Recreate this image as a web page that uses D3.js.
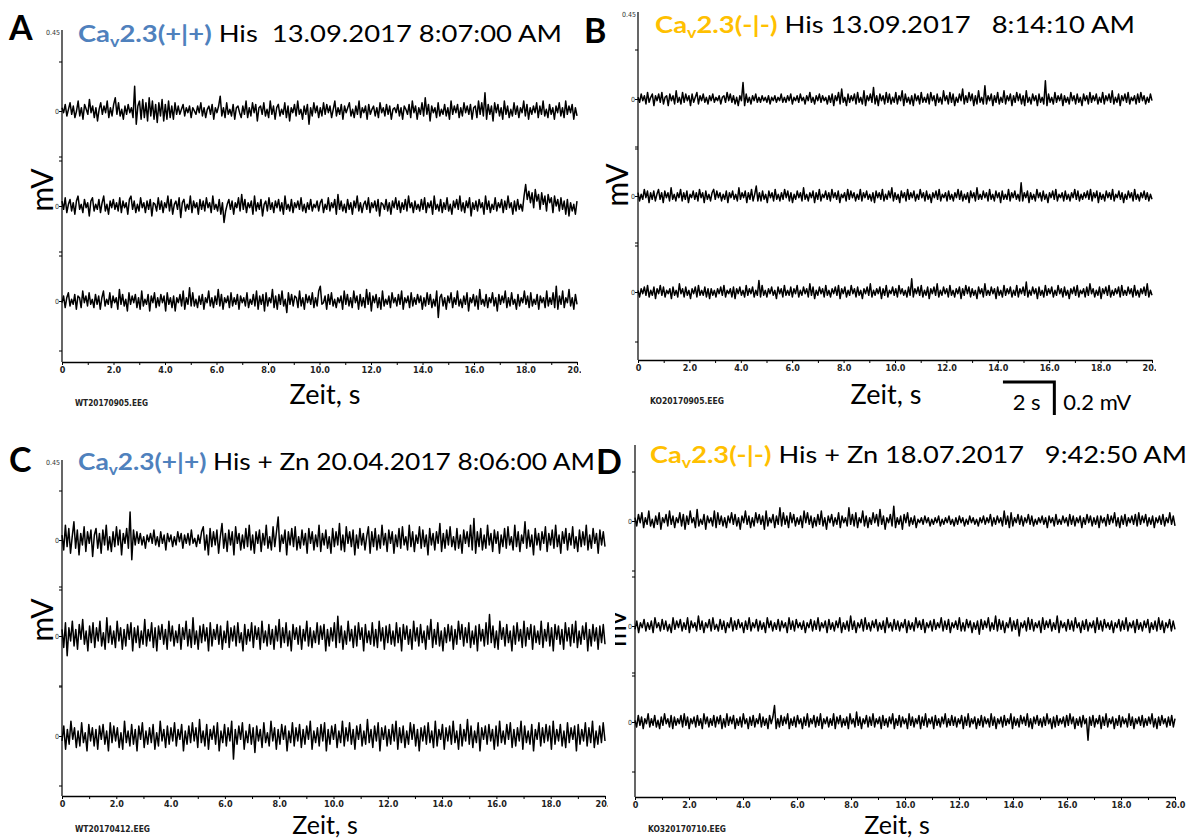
<!DOCTYPE html>
<html>
<head>
<meta charset="utf-8">
<script src="https://cdn.jsdelivr.net/npm/d3@7"></script>
<style>
  html, body { margin: 0; padding: 0; background: #ffffff; }
  svg { display: block; }
</style>
</head>
<body>
<svg id="chart" width="1195" height="840"></svg>
<script>
// ---------- axis ticks ----------
const secondTicks = [0,1,2,3,4,5,6,7,8,9,10,11,12,13,14,15,16,17,18,19,20];
const secondLabels = ["0","","2.0","","4.0","","6.0","","8.0","","10.0","","12.0","","14.0","","16.0","","18.0","","20.0"];
const mvTicks = [-0.3, 0, 0.3];

// ---------- EEG traces, amplitude in 0.01 mV, evenly sampled over 20 s ----------
const traceA1 = [2,-1,4,-3,1,5,-2,3,-4,0,6,-3,2,-5,4,1,-2,7,-1,3,-4,2,-6,1,5,-2,3,-1,6,-4,2,-3,4,8,-2,5,-3,1,-5,3,-2,4,-1,2,-4,15,-8,3,6,-5,7,-4,5,-6,8,-3,6,-5,4,-7,5,-3,7,-6,4,-5,6,-4,3,-5,5,-2,3,-2,1,4,-3,2,-1,3,-4,2,0,-2,3,-1,5,-3,2,-4,1,3,-2,4,-5,2,-1,3,9,-3,2,-4,5,-2,1,-3,4,-5,2,3,-1,-4,3,-2,6,-4,2,-3,5,-1,4,-6,2,3,-2,5,-3,1,-4,6,-2,3,-5,2,4,-3,1,-2,5,-4,3,-6,2,-1,4,-3,6,-2,1,-5,3,-2,4,-8,2,-3,5,-1,3,-4,2,-3,5,-2,4,-1,3,-4,1,6,-3,2,-2,4,-5,3,-1,2,5,-3,1,-4,3,-2,6,-4,2,-1,3,-5,4,-2,1,3,-3,2,-4,5,-1,2,-3,4,-2,3,-5,1,2,-1,4,-3,2,-5,3,1,-2,4,-4,6,-1,3,-5,2,-2,5,-3,8,-2,4,-6,3,-1,2,-4,5,-3,1,-2,4,-3,2,-5,6,-2,3,-1,4,-4,2,-3,5,-1,3,-2,4,-5,2,3,-4,6,-2,5,-3,11,-5,4,-2,3,-6,5,-1,4,-3,2,-5,6,-2,3,-4,1,-3,5,-2,3,-4,2,-1,6,-3,4,-5,2,-2,3,-1,5,-4,3,-2,6,-3,1,-4,4,-2,2,-5,3,-1,5,-3,2,-4,6,-2,3,-1,4,-5,2,-3];
const traceA2 = [3,-2,5,-4,1,4,-3,2,-5,3,6,-2,1,-4,4,-1,2,-6,3,5,-3,1,-2,4,-4,2,6,-3,1,-5,3,-1,4,-2,2,-3,5,-4,3,-1,2,-5,4,6,-2,3,-4,1,-3,5,-1,2,-4,3,-2,4,-6,2,1,-3,5,-2,3,-4,2,-1,6,-3,4,-5,1,3,-2,5,-7,2,4,-3,1,-2,6,-4,3,-1,2,-5,4,-2,3,-3,5,-1,2,-4,6,-2,1,-3,4,-5,2,-10,-3,1,4,-2,3,-5,2,-1,5,-3,7,-2,4,-4,2,-1,3,-5,6,-3,2,-2,4,-6,1,3,-3,5,-2,2,-4,3,-1,4,-3,2,-5,6,-2,1,-3,4,-4,2,-1,3,-2,5,-3,1,-4,2,-2,4,-3,1,-1,3,-3,2,4,-4,1,-2,5,-3,2,-1,4,-5,7,-2,3,-3,1,-4,4,-2,2,-5,3,-1,6,-3,2,-4,1,3,-2,5,-4,2,-1,3,-3,4,-6,2,1,-2,4,-3,2,-5,3,-1,5,-2,3,-4,2,-2,4,-3,6,-1,2,-4,3,-2,1,-3,4,-2,5,-4,2,-1,3,-5,6,-2,1,-3,4,-4,2,-2,5,-3,1,-5,3,-1,4,-2,6,-3,2,-4,3,-1,5,-6,2,-2,3,-3,4,-1,2,-5,6,-2,3,-4,1,-2,5,-3,2,-1,4,-4,3,-2,6,-1,2,-5,3,-3,4,-2,1,-3,6,13,4,9,2,8,-1,10,3,7,-2,8,1,6,-3,7,2,5,-4,6,0,4,-3,5,-2,3,-5,4,-6,2,-3,1,-5,3];
const traceA3 = [-1,3,-4,2,5,-3,1,-2,4,-5,3,2,-4,6,-1,3,-3,5,-2,1,-4,4,-2,3,-5,2,6,-3,1,-2,5,-4,3,-1,2,-5,7,-2,4,-3,1,-6,5,-2,3,-1,4,-4,2,-5,6,-3,1,-2,4,-6,3,-1,5,-4,2,-3,4,-1,3,-6,5,-2,2,-4,3,-6,2,-1,4,-3,6,-5,2,-2,8,-3,5,-3,1,-4,3,-2,4,-5,2,-1,6,-3,2,-4,3,-2,7,-3,4,-5,2,-1,3,-4,5,-3,2,-2,4,-5,3,-1,2,-3,5,-4,1,-2,4,-3,6,-5,3,-2,4,-6,5,-3,2,-1,7,-4,3,-5,4,-2,6,-3,1,-7,5,-2,4,-3,3,2,-4,6,-3,2,-5,4,-1,3,-2,5,-4,2,-3,6,9,-2,-1,3,-5,4,-2,5,-3,1,-4,2,-1,3,-5,6,-2,4,-3,2,-4,6,-1,3,-5,4,-3,2,-4,7,-2,5,-6,3,-1,4,-4,2,-5,6,-3,1,-2,3,-4,5,-1,2,-3,4,-2,6,-5,2,-1,3,-4,5,-3,2,-2,4,-1,3,-5,2,-3,5,-2,4,-4,1,-3,6,-10,2,4,-3,2,-5,3,-1,5,-4,2,-2,6,-3,1,-4,3,-2,5,-6,2,-1,4,-3,3,-5,7,-2,1,-3,4,-4,2,-1,5,-3,2,-6,4,-2,3,-1,6,-4,2,-3,5,-2,1,-5,4,-3,2,-1,6,-2,3,-4,5,-3,1,-2,4,-5,3,-1,2,-4,6,-3,2,-2,5,-4,9,-5,3,-2,6,-4,2,-1,7,-3,2,-5,4,-2];

const traceB1 = [1,-2,3,-1,2,-3,4,-2,1,3,-4,2,-1,3,-2,4,-3,1,2,-4,3,-1,2,-3,5,-2,1,-3,4,-2,3,-1,2,-4,3,-2,1,4,-3,2,-1,3,-2,1,-3,2,-1,3,-2,1,-1,2,-3,1,2,-2,4,-1,3,-2,2,-3,1,-4,2,-1,10,-4,3,-2,1,-3,2,-1,3,-2,1,-2,2,-1,1,-2,2,-3,1,-1,2,-2,1,-1,3,-2,1,-2,2,-1,3,-3,1,-1,2,-2,3,-1,1,-3,2,-1,4,-2,1,-3,2,-1,3,-2,2,-1,1,-3,2,-2,3,-4,2,-1,4,-3,6,-2,1,-4,3,-2,2,-1,3,-3,4,-2,1,-3,5,-4,2,-1,3,-2,7,-3,2,-4,3,-1,2,-3,4,-2,3,-3,1,-2,4,-3,2,-1,5,-4,3,-2,1,-3,2,-4,3,-1,2,-3,4,-2,1,-2,3,-3,4,-1,2,-4,3,-2,1,-3,5,-1,2,-3,4,-2,3,-4,1,-2,3,-1,6,-3,2,-2,4,-1,3,-4,2,-3,5,-2,1,-3,8,-3,2,-1,3,-4,2,-2,4,-3,1,-2,5,-3,2,-1,3,-4,2,-2,4,-1,3,-3,2,-4,5,-2,1,-3,3,-1,2,-4,3,-2,1,-3,11,-4,3,-2,1,-3,4,-2,2,-1,3,-4,2,-2,1,-3,4,-1,2,-3,3,-2,1,-4,3,-1,2,-3,4,-2,2,-1,3,-3,1,-2,4,-3,2,-1,3,-2,5,-3,1,-2,3,-4,2,-1,3,-2,4,-3,1,-1,2,-3,3,-2,4,-1,2,-3,1,-2,3,-1];
const traceB2 = [2,-3,1,-2,4,-1,3,-4,2,-2,3,-3,1,4,-2,2,-4,3,-1,2,-3,5,-2,1,-3,2,-1,4,-3,2,-2,3,-4,1,-1,3,-2,2,-3,4,-1,2,-4,3,-2,1,-3,2,4,-2,3,-1,2,-3,1,-2,3,-4,2,-1,3,-2,1,-3,5,-2,2,-1,3,-4,2,-2,4,-3,1,6,-3,2,-3,3,-2,1,-4,3,-1,2,-3,4,-2,1,-3,2,-2,4,-1,3,-3,2,-4,1,-2,3,-1,2,-3,5,-2,1,-3,2,-1,3,-4,2,-2,4,-3,1,-1,3,-2,2,-3,4,-1,2,-2,3,-4,1,-1,2,-3,4,-2,3,-1,2,-3,1,-2,4,-3,2,-1,3,-2,1,-3,2,-4,3,-1,2,-2,4,-3,1,-2,3,-1,5,-3,2,-2,1,-4,3,-1,2,-3,4,-2,2,-1,3,-3,1,-2,4,-1,2,-3,3,-2,1,-4,2,-1,3,-2,4,-3,1,-1,2,-3,3,-2,1,-3,2,-1,4,-2,3,-3,1,-2,2,-4,3,-1,2,-3,5,-2,1,-2,3,-1,2,-3,4,-2,1,-3,3,-1,2,-4,3,-2,1,-2,4,-3,2,-1,3,-2,1,-3,8,-3,2,-1,3,-4,2,-2,1,-3,4,-1,2,-3,3,-2,1,-4,2,-1,3,-2,4,-3,1,-1,2,-3,3,-2,1,-3,2,-1,4,-2,3,-3,1,-2,2,-1,3,-2,4,-3,2,-1,3,-4,2,-2,1,-3,3,-1,2,-2,4,-3,1,-1,3,-2,2,-4,1,-2,3,-1,2,-3,4,-2,1,-3,2,-1,3,-2,2,-3,1,-2];
const traceB3 = [1,-3,2,-1,3,-2,4,-3,1,-2,3,-4,2,-1,4,-2,3,-3,1,-1,2,-4,3,-2,1,-3,5,-1,2,-3,3,-2,1,-4,2,-1,3,-3,4,-2,1,-2,3,-3,2,-4,2,-2,1,-3,2,-1,3,-2,4,-3,1,-1,2,-3,3,-4,2,-1,3,-2,1,-3,4,-2,2,-1,3,-3,1,-2,7,-3,4,-2,1,-3,2,-1,3,-2,1,-4,3,-1,2,-3,4,-2,1,-2,3,-3,2,-1,4,-3,1,-2,3,-1,2,-3,5,-2,3,-4,1,-2,3,-1,2,-3,4,-2,1,-3,2,-1,3,-2,4,-4,2,-1,3,-3,1,-2,4,-1,2,-3,3,-2,1,-4,2,-1,3,-2,5,-3,1,-2,2,-1,3,-4,2,-2,4,-3,1,-1,3,-2,2,-3,4,-1,2,-2,1,-3,3,-2,8,-3,2,-1,3,-2,4,-3,1,-2,3,-4,2,-1,3,-2,5,-3,1,-2,3,-1,2,-3,4,-2,1,-3,2,-1,3,-4,2,-2,4,-1,3,-3,2,-2,1,-4,3,-1,2,-3,5,-2,1,-2,3,-1,2,-4,3,-2,1,-3,4,-2,2,-1,3,-3,1,-2,4,-3,2,-1,3,-2,6,-3,1,-2,3,-1,2,-4,3,-2,1,-3,4,-2,2,-1,3,-3,1,-2,4,-1,2,-3,3,-2,1,-4,2,-1,3,-2,4,-3,1,-1,2,-3,3,-2,5,-1,2,-3,1,-2,3,-4,2,-1,3,-2,4,-3,1,-2,2,-1,3,-3,4,-2,1,-2,3,-1,2,-3,4,-2,1,-3,2,-1,3,-2,5,-3,1,-2];

const traceC1 = [3,-6,9,-4,7,-8,2,11,-5,6,-9,4,-3,8,-7,5,-2,6,-10,3,7,-5,4,-8,6,-3,9,-6,2,-7,5,-4,8,-3,6,-9,4,-2,7,-5,17,-12,6,-3,5,-2,4,-3,2,-5,3,-1,4,-2,6,-3,2,-4,5,-2,3,-6,4,-1,3,-4,2,-3,5,-1,4,-5,3,-2,4,-3,6,-2,1,-4,3,-2,5,8,-6,3,-9,7,-4,5,-3,6,-8,2,10,-5,4,-7,6,-3,5,-9,8,-2,4,-6,3,-5,7,-4,9,-6,3,-8,5,-2,6,-7,4,-3,9,-5,2,-6,8,-4,5,14,-7,3,-2,6,-9,5,-3,7,-4,8,-6,2,-5,6,-3,4,-8,7,-2,5,-6,3,-4,9,-7,4,-3,6,-5,2,-8,7,-4,5,-3,10,-6,3,-7,8,-2,5,-4,6,-9,3,-5,7,-3,4,-6,2,8,-8,5,-4,7,-6,3,-5,9,-3,4,-7,6,-2,5,-8,3,-4,7,-5,8,-3,2,-6,9,-4,5,-7,3,-2,8,-5,6,-4,3,-9,7,-3,4,-6,5,-2,10,-7,4,-5,6,-3,8,-4,2,-6,7,-5,3,-8,6,-2,5,-4,9,-6,13,-8,5,-4,7,-6,3,-5,9,-3,4,-7,6,-2,5,-8,3,-4,7,-5,8,-3,2,-6,9,-4,5,-7,3,-2,11,-5,6,-4,3,-9,7,-3,4,-6,5,-2,8,-7,4,-3,6,-5,9,-4,3,-8,5,-2,7,-6,4,-3,8,-5,2,-7,6,-4,5,-3,9,-6,3,-5,7,-2,4,-8,6,-3,5,-4];
const traceC2 = [4,-7,8,-12,5,-3,9,-6,4,-8,7,-2,10,-5,3,-9,6,-4,8,-7,5,-3,9,-6,2,-8,11,-4,6,-5,3,-7,9,-3,5,-8,4,-6,7,-2,8,-9,5,-4,6,-7,3,-5,10,-6,4,-3,8,-7,5,-9,6,-2,7,-5,4,-8,9,-3,6,-6,3,-4,7,-8,5,-2,9,-6,4,-7,11,-5,3,-8,6,-4,7,-3,5,-9,8,-6,4,-2,7,-5,6,-8,3,-4,9,-7,5,-3,6,-6,8,-4,2,-9,7,-5,4,-3,8,-7,6,-2,5,-8,9,-4,3,-6,7,-5,4,-8,6,-3,10,-7,5,-4,8,-6,3,-9,7,-2,5,-5,6,-8,4,-3,9,-6,5,-7,3,-4,8,-5,6,-2,7,-9,4,-6,5,-3,8,-7,12,-4,6,-8,3,-5,9,-3,4,-7,6,-6,8,-2,5,-9,7,-4,3,-5,8,-6,4,-7,9,-3,5,-8,6,-4,7,-5,3,-6,8,-4,5,-9,7,-2,6,-5,4,-8,9,-3,5,-6,7,-4,3,-8,6,-2,10,-7,4,-5,8,-6,3,-9,5,-4,7,-3,6,-8,4,-5,9,-2,7,-6,5,-4,8,-7,3,-5,6,-9,7,-3,4,-6,8,-5,13,-4,6,-7,3,-8,9,-2,5,-6,7,-4,3,-9,6,-5,8,-3,4,-7,9,-6,5,-2,7,-8,6,-4,3,-5,9,-7,4,-3,8,-6,5,-9,7,-2,6,-5,4,-8,8,-3,5,-6,7,-4,9,-7,3,-5,6,-2,8,-9,4,-6,7,-3,5,-8,6,-4,7,-5];
const traceC3 = [-3,6,-8,4,-5,9,-2,5,-7,3,-6,8,-4,2,-9,7,-3,5,-6,4,-8,6,-2,7,-5,3,-9,8,-4,6,-3,5,-7,2,-8,9,-4,3,-6,7,-5,4,-9,6,-2,8,-7,3,-5,5,-4,7,-8,2,-6,9,-3,4,-7,6,-5,5,-3,8,-6,4,-2,7,-9,3,-5,6,-4,8,-3,5,-7,10,-4,3,-6,7,-8,4,-2,6,-5,8,-9,3,-4,7,-6,5,-3,9,-14,4,-5,6,-2,8,-8,3,-4,7,-5,5,-10,6,-3,4,-7,8,-4,2,-6,9,-3,5,-8,4,-5,7,-2,6,-9,3,-4,8,-6,5,-3,7,-7,4,-5,6,-2,9,-8,3,-4,5,-6,7,-3,8,-9,4,-5,6,-2,7,-7,3,-4,9,-6,5,-3,8,-5,4,-8,6,-2,7,-6,3,-5,10,-4,4,-7,6,-3,8,-9,5,-2,6,-6,4,-5,7,-3,9,-8,5,-4,6,-7,3,-5,8,-2,7,-6,4,-9,5,-3,6,-5,8,-4,3,-7,9,-6,4,-2,7,-8,5,-3,6,-5,9,-4,3,-8,7,-6,4,-3,10,-5,6,-7,3,-4,8,-9,5,-2,6,-5,7,-3,4,-8,6,-6,9,-4,3,-5,7,-2,8,-7,4,-6,5,-3,9,-8,6,-4,3,-5,7,-9,4,-2,8,-6,5,-4,7,-3,6,-8,9,-5,4,-3,7,-6,3,-7,8,-4,5,-2,6,-9,7,-5,4,-3,8,-6,5,-4,9,-7,3,-5,6,-4,8,-3];

const traceD1 = [2,-3,4,-1,5,-4,2,-2,6,-3,1,-4,3,-2,5,-5,2,-1,4,-3,6,-2,3,-4,2,-1,5,-3,4,-5,3,-2,6,-1,2,-4,7,-3,1,-2,4,-5,3,-1,2,-3,6,-4,5,-2,3,-3,2,-4,3,-1,5,-2,4,-3,2,-5,3,-1,6,-2,3,-4,2,-3,5,-1,4,-2,3,-5,6,-3,2,-1,4,-4,3,-2,8,-3,5,-2,3,-4,5,-1,4,-3,2,-2,3,-4,6,-1,5,-2,3,-4,2,-3,4,-2,6,-3,2,-5,3,-1,4,-3,2,-2,5,-4,3,-1,2,-3,8,-2,4,-3,5,-4,2,-1,6,-3,3,-4,2,-2,5,-1,4,-3,7,-2,3,-5,2,-1,4,-3,9,-4,2,-2,3,-5,4,-1,5,-3,2,-2,3,-4,1,-1,2,-2,3,-1,2,-3,1,-2,2,-1,3,-3,1,-2,2,-1,3,-2,1,-3,2,-2,3,-1,2,-3,1,-2,3,-1,2,-2,1,-3,2,-1,3,-2,2,-1,4,-3,2,-2,3,-1,2,-3,6,-2,3,-4,5,-3,2,-1,4,-2,3,-3,2,-1,4,-2,3,-3,1,-2,2,-1,3,-2,2,-4,3,-1,2,-3,4,-2,1,-2,3,-1,2,-3,4,-2,3,-3,2,-1,3,-4,2,-2,4,-1,3,-3,2,-2,3,-4,3,-1,2,-3,4,-2,3,-1,5,-3,2,-4,3,-2,4,-3,2,-1,3,-2,4,-3,5,-2,3,-1,4,-3,2,-2,3,-4,2,-1,3,-2,4,-3,2,-1,5,-2,3,-3];
const traceD2 = [-2,3,-4,2,-1,4,-3,2,-2,3,-4,5,-1,2,-3,4,-2,3,-3,1,-4,5,-2,3,-1,4,-3,2,-2,5,-4,3,-1,2,-3,6,-2,3,-4,2,-1,4,-3,5,-2,1,-3,4,-2,3,-4,2,-1,5,-3,3,-2,4,-1,2,-4,3,-2,5,-3,2,-1,4,-3,3,-2,2,-4,5,-1,3,-3,2,-2,4,-3,3,-1,2,-4,5,-2,3,-3,4,-1,2,-2,3,-4,2,-1,4,-3,3,-2,5,-3,2,-1,3,-4,4,-2,2,-3,3,-1,5,-4,2,-2,3,-3,6,-2,3,-4,2,-1,4,-3,5,-2,2,-3,3,-1,4,-3,2,-2,3,-4,5,-1,2,-3,4,-2,3,-3,2,-1,4,-4,3,-2,2,-3,5,-1,3,-2,4,-4,2,-1,3,-3,4,-2,2,-1,5,-3,3,-2,4,-4,2,-1,3,-2,5,-3,2,-3,4,-1,3,-4,2,-2,3,-5,4,-2,3,-1,5,-3,2,-2,6,-3,4,-2,3,-4,2,-1,5,-3,3,-2,4,-6,2,-1,3,-3,5,-2,4,-3,2,-1,3,-4,5,-2,3,-1,4,-3,2,-2,6,-4,3,-1,2,-3,4,-2,3,-3,5,-1,2,-4,3,-2,4,-3,2,-1,3,-4,5,-2,3,-3,4,-1,2,-2,3,-4,2,-1,4,-3,3,-2,5,-3,2,-1,3,-4,4,-2,2,-3,3,-1,4,-4,2,-2,3,-3,5,-2,3,-4,2,-1,4,-3,3,-2];
const traceD3 = [1,-3,4,-2,3,-4,2,-1,5,-3,2,-2,4,-3,1,-4,3,-2,5,-1,2,-3,4,-4,3,-2,2,-1,4,-3,5,-2,3,-4,2,-1,3,-3,4,-2,2,-4,5,-1,3,-3,2,-2,4,-3,3,-1,4,-4,2,-3,5,-2,3,-1,4,-4,2,-2,3,-3,5,-1,2,-4,3,-2,4,-3,2,-1,5,-3,3,-2,2,-4,4,-1,3,10,-4,2,-3,4,-2,3,-1,5,-4,2,-2,3,-3,4,-1,2,-4,3,-2,5,-3,2,-1,4,-3,3,-2,5,-4,2,-1,3,-3,2,-2,5,-4,3,-1,4,-3,2,-2,3,-4,5,-1,2,-3,6,-2,3,-4,2,-1,4,-3,3,-2,5,-3,2,-1,3,-4,4,-2,2,-3,3,-1,5,-4,2,-2,4,-3,3,-1,2,-4,5,-2,3,-3,2,-1,4,-4,3,-2,5,-3,2,-1,3,-4,4,-2,2,-3,3,-1,5,-3,2,-2,4,-2,3,-3,2,-1,4,-4,3,-2,5,-3,2,-1,3,-4,2,-2,4,-3,3,-1,2,-3,5,-2,3,-4,2,-1,3,-3,4,-2,2,-1,5,-4,3,-2,2,-3,4,-1,3,-2,5,-3,2,-4,3,-1,4,-2,2,-3,3,-2,5,-1,2,-4,3,-3,4,-2,2,-1,3,-3,4,-2,5,-1,3,-4,2,-2,3,-3,4,-1,2,-11,3,-2,4,-3,2,-1,4,-4,3,-2,5,-3,2,-1,3,-4,2,-2,4,-3,3,-1,2,-3,5,-2,3,-4,2,-1,3,-2,4,-3,2,-2,3,-1,5,-3,2,-4,3,-2,4,-1,2,-3,3,-2,4,-3,2];

// ---------- titles and captions ----------
const genotypes = ["(+|+)", "(-|-)", "(+|+)", "(-|-)"];
const treatments = [" His  13.09.2017 8:07:00 AM", " His 13.09.2017   8:14:10 AM", " His + Zn 20.04.2017 8:06:00 AM", " His + Zn 18.07.2017   9:42:50 AM"];
const fileNames = ["WT20170905.EEG", "KO20170905.EEG", "WT20170412.EEG", "KO320170710.EEG"];
const panelLetters = ["A", "B", "C", "D"];
const scaleBarSeconds = 2;
const scaleBarMillivolts = 0.2;

// ---------- panel geometry ----------
const BLUE = "#4f81bd", ORANGE = "#ffc000";
const PX_PER_MV = 165;
const layout = [
  { x0: 62,  x1: 577,  zeros: [111, 206, 301], top: 30,  axisY: 362, clipR: 581,
    letter: [9, 40], title: [78, 42, 484], color: BLUE, mv: [42, 190, 30], zeit: [325, 404, 27], file: [75, 406, 73], topLabel: true },
  { x0: 638, x1: 1152, zeros: [99, 196, 292],  top: 12,  axisY: 360, clipR: 1156,
    letter: [584, 43], title: [655, 33, 480], color: ORANGE, mv: [617, 185, 30], zeit: [886, 404, 27], file: [650, 404, 74], topLabel: true, scaleBar: { t: 14.2, y: 382 } },
  { x0: 62,  x1: 605,  zeros: [540, 636, 736], top: 460, axisY: 796, clipR: 608,
    letter: [9, 472], title: [78, 470, 517], color: BLUE, mv: [42, 620, 30], zeit: [325, 834, 25], file: [75, 832, 75], topLabel: true },
  { x0: 635, x1: 1175, zeros: [521, 626, 722], top: 445, axisY: 797, clipR: 1195,
    letter: [596, 474], title: [650, 463, 537], color: ORANGE, mv: [617, 628, 26], mvClip: 615, zeit: [897, 834, 25], file: [648, 832, 78], topLabel: false }
];
const traces = [
  [traceA1, traceA2, traceA3],
  [traceB1, traceB2, traceB3],
  [traceC1, traceC2, traceC3],
  [traceD1, traceD2, traceD3]
];

const svg = d3.select("#chart");
const defs = svg.append("defs");
const TICK_FONT = "'Liberation Sans Narrow', 'DejaVu Sans Condensed', 'Liberation Sans', Arial, sans-serif";
const TEXT_FONT = "Lato, 'Open Sans', 'Noto Sans', sans-serif";

layout.forEach((L, pi) => {
  const clipId = "panel-clip-" + pi;
  defs.append("clipPath").attr("id", clipId)
    .append("rect").attr("x", 0).attr("y", 0).attr("width", L.clipR).attr("height", 840);

  const g = svg.append("g").attr("clip-path", `url(#${clipId})`);
  const x = d3.scaleLinear().domain([0, 20]).range([L.x0, L.x1]);

  // x axis
  const xAxis = d3.axisBottom(x)
    .tickValues(secondTicks)
    .tickSize(3)
    .tickSizeOuter(0)
    .tickFormat((d, i) => secondLabels[i]);
  const xg = g.append("g").attr("transform", `translate(0,${L.axisY})`).call(xAxis);
  xg.select(".domain").attr("stroke", "#000").attr("stroke-width", 1.3);
  xg.selectAll(".tick line").attr("stroke", "#000").attr("stroke-width", 1);
  xg.selectAll(".tick text")
    .attr("y", 5)
    .attr("fill", "#222")
    .style("font-family", TICK_FONT)
    .style("font-weight", "bold")
    .style("font-size", "9px");

  // vertical axis line
  g.append("line")
    .attr("x1", L.x0).attr("x2", L.x0)
    .attr("y1", L.top).attr("y2", L.axisY)
    .attr("stroke", "#000").attr("stroke-width", 1.2);
  if (L.topLabel) {
    g.append("text").attr("x", L.x0 - 2).attr("y", L.top + 5)
      .attr("text-anchor", "end")
      .style("font-family", TICK_FONT).style("font-size", "7px").attr("fill", "#333")
      .text("0.45");
  }

  // traces, each on its own mV scale
  traces[pi].forEach((vals, ti) => {
    const z = L.zeros[ti];
    const y = d3.scaleLinear().domain([-0.45, 0.45])
      .range([z + 0.45 * PX_PER_MV, z - 0.45 * PX_PER_MV]);
    const yAxis = d3.axisLeft(y).tickValues(mvTicks).tickSize(3)
      .tickFormat(d => d === 0 ? "0" : "");
    const yg = g.append("g").attr("transform", `translate(${L.x0},0)`).call(yAxis);
    yg.select(".domain").remove();
    yg.selectAll(".tick line").attr("stroke", "#000");
    yg.selectAll(".tick text")
      .attr("x", -3)
      .attr("fill", "#333")
      .style("font-family", TICK_FONT)
      .style("font-size", "7px");

    const n = vals.length;
    const line = d3.line()
      .x((d, i) => x(i * 20 / (n - 1)))
      .y(d => y(d / 100));
    g.append("path")
      .datum(vals)
      .attr("d", line)
      .attr("fill", "none")
      .attr("stroke", "#000")
      .attr("stroke-width", 1.5)
      .attr("stroke-linejoin", "round");
  });

  // panel letter
  svg.append("text").attr("x", L.letter[0]).attr("y", L.letter[1])
    .style("font-family", TEXT_FONT).style("font-weight", "bold").style("font-size", "34px")
    .attr("fill", "#000").text(panelLetters[pi]);

  // title: genotype in colour, recording info in black
  const t = svg.append("text").attr("x", L.title[0]).attr("y", L.title[1])
    .style("font-family", TEXT_FONT).style("font-size", "23px")
    .style("white-space", "pre")
    .attr("textLength", L.title[2]).attr("lengthAdjust", "spacingAndGlyphs");
  t.append("tspan").attr("fill", L.color).style("font-weight", "bold").text("Ca");
  t.append("tspan").attr("fill", L.color).style("font-weight", "bold")
    .style("font-size", "15px").attr("dy", 5).text("v");
  t.append("tspan").attr("fill", L.color).style("font-weight", "bold").attr("dy", -5)
    .text("2.3" + genotypes[pi]);
  t.append("tspan").attr("fill", "#000").text(treatments[pi]);

  // mV label
  const mvG = svg.append("g");
  if (L.mvClip !== undefined) {
    const mid = "mv-clip-" + pi;
    defs.append("clipPath").attr("id", mid).append("rect")
      .attr("x", L.mvClip).attr("y", L.mv[1] - 40).attr("width", 30).attr("height", 80);
    mvG.attr("clip-path", `url(#${mid})`);
  }
  mvG.append("text")
    .attr("transform", `translate(${L.mv[0] + L.mv[2] * 0.36},${L.mv[1]}) rotate(-90)`)
    .attr("text-anchor", "middle")
    .style("font-family", TEXT_FONT).style("font-size", L.mv[2] + "px")
    .attr("fill", "#000").text("mV");

  // x axis caption
  svg.append("text").attr("x", L.zeit[0]).attr("y", L.zeit[1])
    .attr("text-anchor", "middle")
    .style("font-family", TEXT_FONT).style("font-size", L.zeit[2] + "px")
    .attr("fill", "#000").text("Zeit, s");

  // file name
  svg.append("text").attr("x", L.file[0]).attr("y", L.file[1])
    .attr("textLength", L.file[2]).attr("lengthAdjust", "spacingAndGlyphs")
    .style("font-family", TICK_FONT).style("font-weight", "bold").style("font-size", "8px")
    .attr("fill", "#222").text(fileNames[pi]);

  // calibration bar
  if (L.scaleBar) {
    const sx0 = x(L.scaleBar.t), sx1 = x(L.scaleBar.t + scaleBarSeconds);
    const sy0 = L.scaleBar.y, sy1 = sy0 + scaleBarMillivolts * PX_PER_MV;
    svg.append("path")
      .attr("d", `M${sx0},${sy0}H${sx1}V${sy1}`)
      .attr("fill", "none").attr("stroke", "#000").attr("stroke-width", 3);
    svg.append("text").attr("x", (sx0 + sx1) / 2 - 2).attr("y", sy0 + 28)
      .attr("text-anchor", "middle")
      .style("font-family", TEXT_FONT).style("font-size", "22px")
      .attr("fill", "#000").text(scaleBarSeconds + " s");
    svg.append("text").attr("x", sx1 + 9).attr("y", sy0 + 28)
      .style("font-family", TEXT_FONT).style("font-size", "22px")
      .attr("fill", "#000").text(scaleBarMillivolts + " mV");
  }
});
</script>
</body>
</html>
